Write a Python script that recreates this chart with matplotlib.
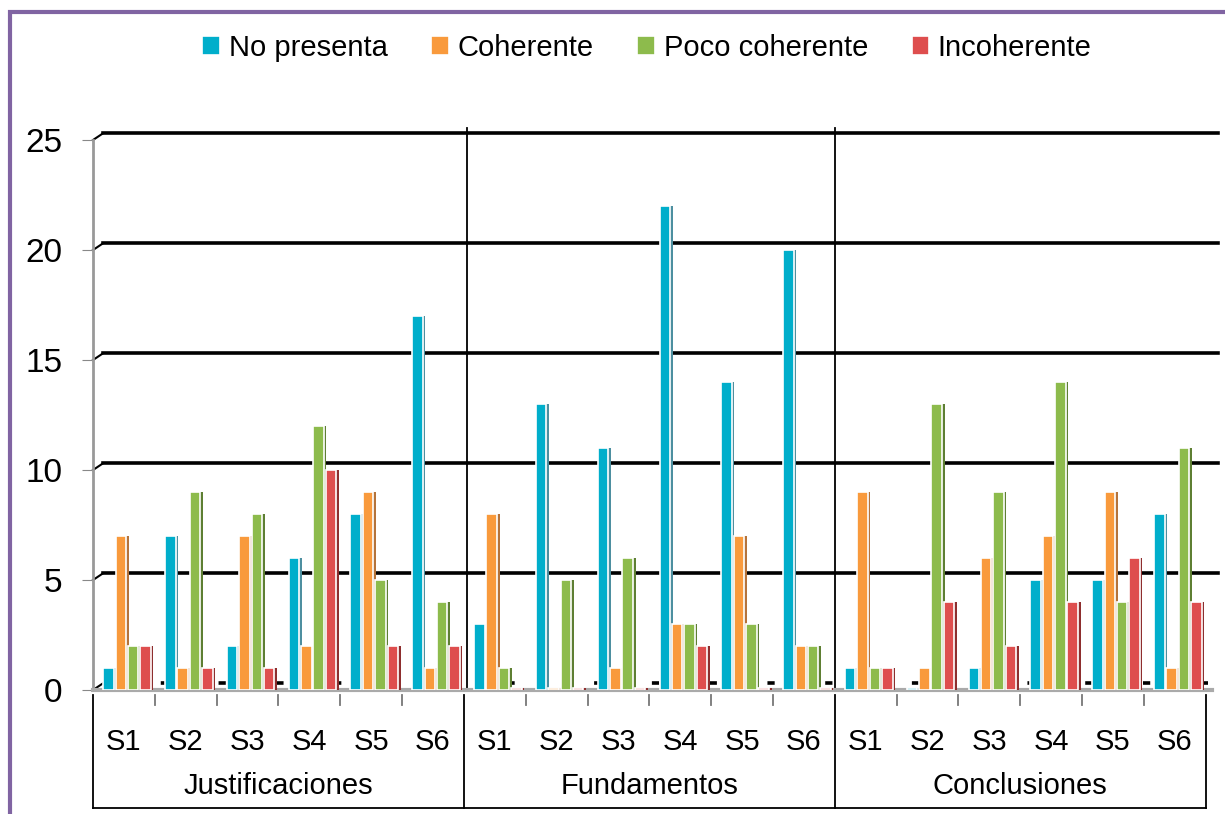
import numpy as np
import matplotlib
matplotlib.use('Agg')
import matplotlib.pyplot as plt
from matplotlib.patches import Rectangle
from matplotlib.transforms import blended_transform_factory

plt.rcParams['font.family'] = ['Liberation Sans', 'DejaVu Sans']

# data
groups = ['Justificaciones', 'Fundamentos', 'Conclusiones']
sessions = ['S1', 'S2', 'S3', 'S4', 'S5', 'S6']
series = ['No presenta', 'Coherente', 'Poco coherente', 'Incoherente']
no_presenta = [1, 7, 2, 6, 8, 17, 3, 13, 11, 22, 14, 20, 1, 0, 1, 5, 5, 8]
coherente = [7, 1, 7, 2, 9, 1, 8, 0, 1, 3, 7, 2, 9, 1, 6, 7, 9, 1]
poco_coherente = [2, 9, 8, 12, 5, 4, 1, 5, 6, 3, 3, 2, 1, 13, 9, 14, 4, 11]
incoherente = [2, 1, 1, 10, 2, 2, 0, 0, 0, 2, 0, 0, 1, 4, 2, 4, 6, 4]
yticks = [0, 5, 10, 15, 20, 25]

colors = ['#00AECB', '#F99A3C', '#8DBB4C', '#DE4E4E']
sides = ['#4D8FA0', '#B5733A', '#5E7F33', '#8E2E2E']

W, H = 1225, 814
fig = plt.figure(figsize=(W / 100, H / 100), dpi=100)
ax = fig.add_axes([93 / W, 1 - 690 / H, (1218 - 93) / W, 550 / H])

x = np.arange(len(no_presenta))
bw = 0.17
offs = [-0.25, -0.05, 0.15, 0.35]
for vals, off, c, sc, lab in zip([no_presenta, coherente, poco_coherente, incoherente],
                                 offs, colors, sides, series):
    v = np.array(vals, dtype=float)
    ax.bar(x + off + bw * 0.6, np.maximum(v, 0.08), width=0.05, color=sc, zorder=3)
    ax.bar(x + off, np.maximum(v, 0.08), width=bw, color=c, edgecolor='white',
           linewidth=1.2, zorder=4, label=lab)

# gridlines with the little 3D kink at the wall
for v in yticks:
    ls = (0, (2, 6)) if v == 0 else '-'
    ax.plot([-0.5, -0.34], [v, v + 0.3], color='black', lw=1.5, zorder=1, clip_on=False)
    ax.plot([-0.34, 17.7], [v + 0.3, v + 0.3], color='black', lw=2.6,
            linestyle=ls, zorder=1, clip_on=False)

ax.set_xlim(-0.5, 17.7)
ax.set_ylim(0, 25)
ax.set_yticks(yticks)
ax.set_xticks([])
ax.tick_params(axis='y', length=8, color='#888888', labelsize=24, pad=14)
for s in ['top', 'right']:
    ax.spines[s].set_visible(False)
ax.spines['left'].set_color('#999999')
ax.spines['left'].set_linewidth(2)
ax.spines['bottom'].set_color('#AAAAAA')
ax.spines['bottom'].set_linewidth(3)
ax.spines['bottom'].set_bounds(-0.5, 17.6)

# category table below the axis
tr = blended_transform_factory(ax.transData, fig.transFigure)
fy = lambda p: 1 - p / H
top, bot = fy(695), fy(808)
for b in [-0.5, 5.5, 11.5, 17.5]:
    ax.plot([b, b], [top, bot], color='black', lw=1.3, transform=tr, clip_on=False)
for b in [5.55, 11.5]:
    ax.plot([b, b], [fy(128), fy(690)], color='black', lw=1.3, transform=tr, clip_on=False)
ax.plot([-0.5, 17.5], [bot, bot], color='black', lw=1.3, transform=tr, clip_on=False)
for b in np.arange(0.5, 17.5, 1.0):
    if b in (5.5, 11.5):
        continue
    ax.plot([b, b], [top, fy(705)], color='#777777', lw=1.3, transform=tr, clip_on=False)
for i in x:
    ax.text(i, fy(742), sessions[i % 6], transform=tr, ha='center', va='center', fontsize=21)
for g, name in enumerate(groups):
    ax.text(g * 6 + 2.5, fy(786), name, transform=tr, ha='center', va='center', fontsize=21)

leg = fig.legend(loc='center', bbox_to_anchor=(647 / W, fy(48)), ncol=4, frameon=False,
                 fontsize=21, handlelength=0.6, handleheight=0.6, handletextpad=0.3,
                 columnspacing=1.5)

fig.patches.append(Rectangle((10 / W, -0.1), 1.2, fy(12) + 0.1, transform=fig.transFigure,
                             fill=False, edgecolor='#8064A2', linewidth=3))

fig.savefig('out.png', dpi=100)
